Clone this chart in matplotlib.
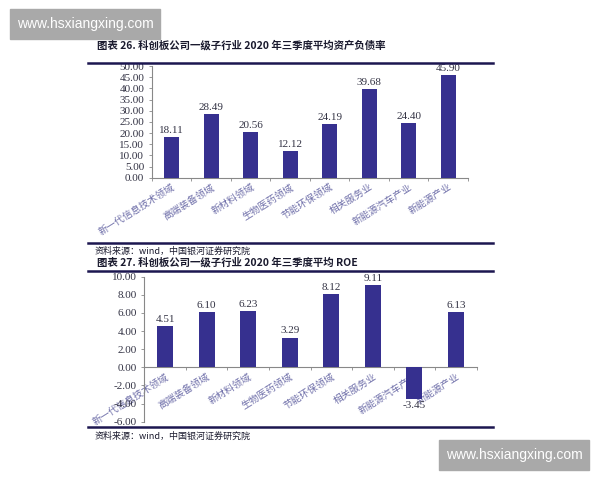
import numpy as np
import matplotlib
matplotlib.use("Agg")
import matplotlib.pyplot as plt
from matplotlib.patches import Rectangle
from matplotlib.lines import Line2D

plt.rcParams['font.family'] = ['Noto Sans CJK SC', 'DejaVu Sans']

categories = ["新一代信息技术领域", "高端装备领域", "新材料领域", "生物医药领域",
              "节能环保领域", "相关服务业", "新能源汽车产业", "新能源产业"]
debt_ratio = [18.11, 28.49, 20.56, 12.12, 24.19, 39.68, 24.40, 45.90]
roe = [4.51, 6.10, 6.23, 3.29, 8.12, 9.11, -3.45, 6.13]

title1 = "图表 26. 科创板公司一级子行业 2020 年三季度平均资产负债率"
title2 = "图表 27. 科创板公司一级子行业 2020 年三季度平均 ROE"
source = "资料来源：wind，中国银河证券研究院"

bar_color = "#36308f"
line_color = "#1c1650"
label_color = "#7070aa"
num_font = "Liberation Serif"

fig = plt.figure(figsize=(6, 4.8), dpi=100)


def draw_panel(ax, values, yticks):
    x = np.arange(len(values))
    ax.bar(x, values, width=0.38, color=bar_color, zorder=3)
    ax.set_xlim(-0.5, len(values) - 0.5)
    ax.set_ylim(yticks[0], yticks[-1])
    ax.spines['top'].set_visible(False)
    ax.spines['right'].set_visible(False)
    ax.spines['bottom'].set_position(('data', 0))
    for s in ['left', 'bottom']:
        ax.spines[s].set_color('#888888')
        ax.spines[s].set_linewidth(0.8)
    ax.set_yticks(yticks)
    ax.set_yticklabels([f"{v:.2f}" for v in yticks], family=num_font,
                       fontsize=8, color="#333344")
    ax.tick_params(axis='y', length=2.5, width=0.6, color='#888888', pad=3)
    # boundary ticks (major) and category labels (minor)
    ax.set_xticks(np.arange(len(values) + 1) - 0.5)
    ax.set_xticklabels([])
    ax.tick_params(axis='x', which='major', length=2.5, width=0.6, color='#888888')
    ax.set_xticks(x, categories, minor=True)
    ax.tick_params(axis='x', which='minor', length=0, pad=3)
    for lab in ax.get_xticklabels(minor=True):
        lab.set_rotation(32)
        lab.set_rotation_mode('anchor')
        lab.set_ha('right')
        lab.set_va('top')
        lab.set_fontsize(7)
        lab.set_color(label_color)
    for xi, v in zip(x, values):
        off = 1.5 if v >= 0 else -2
        ax.annotate(f"{v:.2f}", (xi, v), xytext=(0, off), textcoords='offset points',
                    ha='center', va='bottom' if v >= 0 else 'top',
                    family=num_font, fontsize=8, color="#333344")


ax1 = fig.add_axes([0.2533, 0.6298, 0.5267, 0.2327])
draw_panel(ax1, debt_ratio, np.arange(0, 50.1, 5))

ax2 = fig.add_axes([0.2405, 0.1215, 0.554, 0.302])
draw_panel(ax2, roe, np.arange(-6, 10.1, 2))

# titles, rules and source notes
fig.text(0.1617, 0.906, title1, fontsize=7.5, fontweight='bold', color='#1a1a2e', va='center')
fig.text(0.1617, 0.454, title2, fontsize=7.5, fontweight='bold', color='#1a1a2e', va='center')
for yy in [0.8695, 0.4938, 0.435, 0.1104]:
    fig.add_artist(Line2D([0.1467, 0.8217], [yy, yy], color=line_color, lw=1.8))
fig.text(0.158, 0.476, source, fontsize=6.5, style='italic', color='#1a1a2e', va='center')
fig.text(0.158, 0.091, source, fontsize=6.5, style='italic', color='#1a1a2e', va='center')

# watermarks
for (wx, wy) in [(0.0167, 0.91875), (0.7317, 0.0208)]:
    fig.add_artist(Rectangle((wx, wy), 0.25, 0.0615, transform=fig.transFigure,
                             color='#a9a9a9', zorder=10))
    fig.text(wx + 0.125, wy + 0.031, "www.hsxiangxing.com", color='white',
             fontsize=10, ha='center', va='center', zorder=11, family='Liberation Sans')

fig.savefig("out.png", dpi=100)
